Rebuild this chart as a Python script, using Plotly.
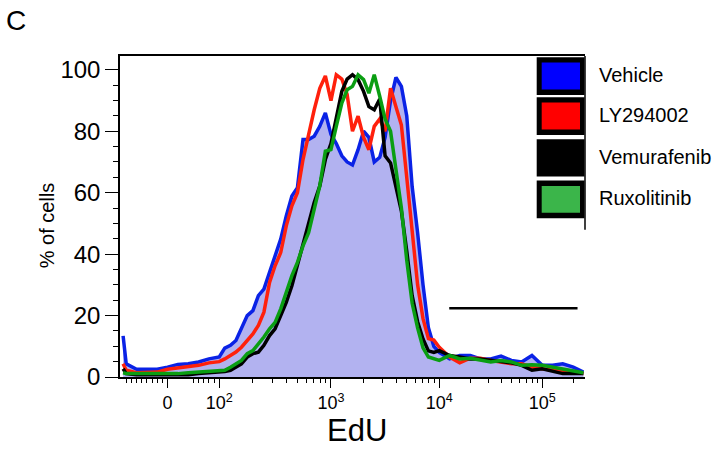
import numpy as np
import plotly.graph_objects as go

# ---------------- data (EdU fluorescence bins, % of cells) ----------------
EDU_BINS = [-86, -80, -60, -40, -20, 0, 20, 40, 60, 80, 100,
            112, 126, 141, 158, 178, 200, 224, 251, 282, 316, 355, 398, 447, 501,
            562, 631, 708, 794, 891, 1000,
            1120, 1260, 1410, 1580, 1780, 2000, 2240, 2510, 2820, 3160, 3550, 3980,
            4470, 5010, 5620, 6310, 7080, 7940, 8910, 10000,
            12600, 15800, 20000, 25100, 31600, 39800, 50100, 63100, 79400, 100000,
            126000, 158000, 200000, 251000]

VEHICLE = [13.4, 4.3, 2.5, 2.5, 2.5, 3.2, 4.1, 4.3, 4.9, 5.9, 6.5,
           9.4, 10.3, 11.9, 16.2, 20, 21.6, 26.5, 28.6, 34, 38.9, 44.9, 52.4, 58.9, 61.6,
           77.3, 77.3, 78.4, 81.6, 86, 79,
           76, 72, 70, 69, 74, 80, 78, 70, 71.5, 78, 90, 97.5,
           94.6, 85, 62, 47, 30, 16, 10, 8,
           5.9, 7, 7, 5.9, 5.9, 6.8, 5.4, 4.9, 7, 3.8,
           3.8, 4.3, 3.2, 1.6]

LY294002 = [4.3, 2.2, 1.4, 1.4, 1.6, 2.5, 2.9, 3.2, 3.8, 4.6, 5.0,
            5.9, 7, 8.1, 9.7, 11.9, 14, 16.8, 21.1, 30.8, 36.2, 40.5, 49.2, 55.7, 60,
            70.8, 79.5, 87, 94, 98, 90,
            98.4, 97, 92, 80, 84.9, 78, 74, 81.6, 84, 80, 94, 88,
            82, 65, 47, 30, 19, 12.5, 12, 9.7,
            6.5, 4.6, 6.1, 6.1, 5.4, 4.9, 4.3, 4.3, 3.2, 2.7,
            2.2, 1.8, 1.6, 1.1]

VEMURAFENIB = [2.7, 1.1, 0.7, 0.7, 0.7, 0.5, 0.7, 0.7, 1.1, 1.4, 1.5,
               1.8, 2.2, 3.2, 4.3, 6.5, 7.6, 8.1, 10.3, 13.5, 15.7, 20, 24.3, 29.7, 36.2,
               42.7, 49.2, 56.8, 62.2, 70.8, 76,
               85, 93, 97, 98.4, 96.8, 93, 88, 87, 90.5, 72, 69.7, 62,
               54, 41, 26.5, 18, 12.4, 8.5, 8, 8.6,
               7, 6.5, 5.9, 5.9, 5.4, 4.9, 4.6, 3.8, 2.2, 2.7,
               1.8, 1.1, 1.1, 1.1]

RUXOLITINIB = [1.4, 1.1, 1.1, 1.1, 1.1, 1.1, 1.1, 1.4, 1.6, 1.8, 2.0,
               2.2, 3.2, 4.3, 5.4, 7.6, 8.6, 10.8, 13, 15.7, 17.8, 22.2, 27.6, 33, 37.3,
               42.7, 47, 54.6, 62.2, 73.5, 74,
               81.6, 89.2, 93.5, 94.6, 98.4, 96.8, 92.4, 98.4, 91.4, 84, 80, 67,
               55, 38, 24, 16, 9.5, 6.5, 5.8, 5.4,
               7, 5.9, 6.1, 5.4, 4.9, 5.4, 4.9, 3.8, 4, 3.8,
               3.2, 2.5, 1.8, 1.4]

SERIES_NAMES = ["Vehicle", "LY294002", "Vemurafenib", "Ruxolitinib"]
LINE_COLORS = ["#0a22e6", "#ff200c", "#000000", "#0a9e12"]
LEGEND_COLORS = ["#0000ff", "#ff0000", "#000000", "#3bb54a"]

GATE_X = [12500, 220000]
GATE_Y = [22.4, 22.4]

X_MAJOR = [0, 100, 1000, 10000, 100000]
X_MAJOR_TEXT = ["0", "10<sup>2</sup>", "10<sup>3</sup>", "10<sup>4</sup>", "10<sup>5</sup>"]
X_MINOR = ([-80, -70, -60, -50, -40, -30, -20, -10, 50, 60, 70, 80, 90]
           + [m * 10 ** k for k in (2, 3, 4) for m in range(2, 10)] + [200000])
Y_TICKS = [0, 20, 40, 60, 80, 100]
X_RANGE_EDU = [-92, 260000]
Y_RANGE = [0, 104.5]

# ---------------- biexponential-like display transform ----------------
LIN_SLOPE = 0.517
LOG_DEC = [2, 3, 4, 5, 6]
LOG_POS = [0.0, 111.7, 220.0, 323.0, 426.0]


def biex(v):
    v = np.asarray(v, dtype=float)
    lin = (v - 100.0) * LIN_SLOPE
    lg = np.interp(np.log10(np.maximum(v, 100.0)), LOG_DEC, LOG_POS)
    return np.where(v < 100, lin, lg)


FONT = "Liberation Sans, Arial, Helvetica, sans-serif"
W, H = 728, 454
L, R, T, B = 120, 143, 56, 76.7
PW, PH = W - L - R, H - T - B


def px(x):
    return (x - L) / PW


def py(y):
    return (H - B - y) / PH


xb = biex(EDU_BINS)
fig = go.Figure()
fig.add_trace(go.Scatter(x=xb, y=VEHICLE, mode="lines", fill="tozeroy",
                         fillcolor="rgb(178,178,240)", line=dict(width=0),
                         hoverinfo="skip", showlegend=False))
for name, ys, col in zip(SERIES_NAMES, [VEHICLE, LY294002, VEMURAFENIB, RUXOLITINIB], LINE_COLORS):
    fig.add_trace(go.Scatter(x=xb, y=ys, mode="lines", name=name,
                             line=dict(color=col, width=3.5), showlegend=False))
fig.add_trace(go.Scatter(x=biex(GATE_X), y=GATE_Y, mode="lines",
                         line=dict(color="black", width=2.6), showlegend=False))

fig.update_xaxes(range=list(biex(X_RANGE_EDU)), tickmode="array",
                 tickvals=list(biex(X_MAJOR)), ticktext=X_MAJOR_TEXT,
                 ticks="outside", ticklen=9, tickwidth=1.2, tickcolor="black",
                 showline=True, linecolor="black", linewidth=1.5, mirror=True,
                 showgrid=False, zeroline=False,
                 tickfont=dict(family=FONT, size=18, color="black"),
                 minor=dict(tickmode="array", tickvals=list(biex(X_MINOR)),
                            ticks="outside", ticklen=4, tickwidth=1, tickcolor="black",
                            showgrid=False))
fig.update_yaxes(range=Y_RANGE, tickmode="array", tickvals=Y_TICKS,
                 ticks="outside", ticklen=13, tickwidth=1.2, tickcolor="black",
                 showline=True, linecolor="black", linewidth=1.5,
                 showgrid=False, zeroline=False,
                 tickfont=dict(family=FONT, size=24, color="black"),
                 minor=dict(dtick=5, ticks="outside", ticklen=5, tickwidth=1,
                            tickcolor="black", showgrid=False))

shapes = []
annotations = []
# legend frame line on right
shapes.append(dict(type="line", xref="paper", yref="paper", x0=px(585), x1=px(585),
                   y0=py(56), y1=py(230), line=dict(color="black", width=1.5)))
row_tops = [57.3, 97.3, 139.3, 180.7]
row_bots = [95.0, 135.0, 176.7, 218.3]
for name, col, t0, b0 in zip(SERIES_NAMES, LEGEND_COLORS, row_tops, row_bots):
    shapes.append(dict(type="rect", xref="paper", yref="paper",
                       x0=px(536.7), x1=px(584.5), y0=py(b0), y1=py(t0),
                       fillcolor="black", line=dict(width=0)))
    shapes.append(dict(type="rect", xref="paper", yref="paper",
                       x0=px(541.7), x1=px(580), y0=py(b0 - 5.5), y1=py(t0 + 5.3),
                       fillcolor=col, line=dict(width=0)))
    annotations.append(dict(text=name, xref="paper", yref="paper", x=px(597),
                            y=py((t0 + b0) / 2 - 1), xanchor="left", yanchor="middle",
                            showarrow=False, font=dict(family=FONT, size=20, color="black")))

annotations.append(dict(text="% of cells", xref="paper", yref="paper", x=px(46.7),
                        y=py(225.7), textangle=-90, xanchor="center", yanchor="middle",
                        showarrow=False, font=dict(family=FONT, size=20, color="black")))
annotations.append(dict(text="EdU", xref="paper", yref="paper", x=px(356.7),
                        y=py(430.5), xanchor="center", yanchor="middle",
                        showarrow=False, font=dict(family=FONT, size=31, color="black")))
annotations.append(dict(text="C", xref="paper", yref="paper", x=px(4),
                        y=py(20), xanchor="left", yanchor="middle",
                        showarrow=False, font=dict(family=FONT, size=28, color="black")))

fig.update_layout(width=W, height=H, margin=dict(l=L, r=R, t=T, b=B, pad=0),
                  plot_bgcolor="white", paper_bgcolor="white", showlegend=False,
                  font=dict(family=FONT, color="black"),
                  shapes=shapes, annotations=annotations)

fig.write_html("out.html")
